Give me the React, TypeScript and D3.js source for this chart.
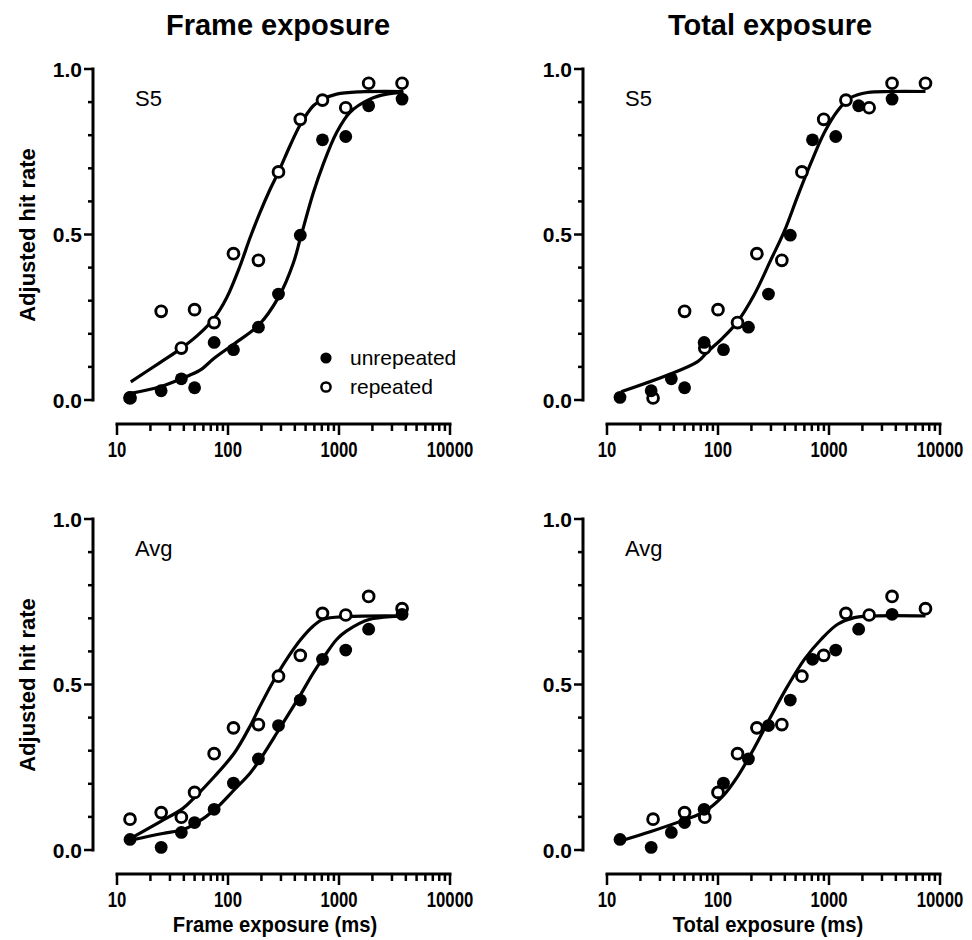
import React from 'react';
import * as d3 from 'd3';

const FONT = '"Liberation Sans", Arial, Helvetica, sans-serif';

// exposure durations (ms)
const frameMs = [13.1, 25, 38, 50, 75, 112, 188, 285, 448, 710, 1150, 1850, 3700];
const totalUnrepeatedMs = [13.1, 25, 38, 50, 75, 112, 188, 285, 448, 710, 1150, 1850, 3700];
const totalRepeatedMs = [26, 50, 76, 100, 150, 224, 376, 570, 896, 1420, 2300, 3700, 7400];

// adjusted hit rates
const s5Unrepeated = [0.008, 0.028, 0.064, 0.037, 0.174, 0.152, 0.22, 0.32, 0.498, 0.786, 0.796, 0.889, 0.909];
const s5Repeated = [0.006, 0.268, 0.157, 0.273, 0.234, 0.442, 0.422, 0.689, 0.848, 0.906, 0.883, 0.957, 0.957];
const avgUnrepeated = [0.032, 0.008, 0.053, 0.083, 0.123, 0.202, 0.275, 0.376, 0.453, 0.576, 0.604, 0.667, 0.712];
const avgRepeated = [0.093, 0.113, 0.099, 0.174, 0.291, 0.369, 0.379, 0.525, 0.588, 0.715, 0.71, 0.766, 0.729];

// fitted curves
const s5FrameRepCurveX = [13.3, 24.4, 39, 56, 75, 97, 128, 158, 194, 239, 288, 362, 450, 587, 720, 952, 1545, 3800];
const s5FrameRepCurveY = [0.055, 0.113, 0.159, 0.202, 0.247, 0.308, 0.404, 0.49, 0.566, 0.636, 0.692, 0.768, 0.833, 0.889, 0.909, 0.924, 0.931, 0.932];
const s5FrameUnrepCurveX = [13.3, 24.4, 39, 56, 75, 114, 190, 288, 388, 450, 587, 720, 952, 1256, 1900, 2690, 3800];
const s5FrameUnrepCurveY = [0.02, 0.04, 0.066, 0.09, 0.126, 0.17, 0.227, 0.313, 0.414, 0.49, 0.626, 0.712, 0.808, 0.869, 0.909, 0.924, 0.929];
const s5TotalCurveX = [13.4, 65.6, 80.7, 110, 148, 212, 300, 396, 522, 689, 908, 1197, 1578, 2228, 3623, 7400];
const s5TotalCurveY = [0.025, 0.116, 0.146, 0.187, 0.234, 0.318, 0.424, 0.51, 0.616, 0.717, 0.808, 0.874, 0.914, 0.929, 0.932, 0.932];
const avgFrameRepCurveX = [13.3, 24.4, 39, 50.4, 75.5, 114, 158, 194, 256, 337, 452, 587, 724, 1173, 3800];
const avgFrameRepCurveY = [0.035, 0.085, 0.125, 0.16, 0.222, 0.293, 0.374, 0.434, 0.51, 0.576, 0.636, 0.677, 0.697, 0.705, 0.707];
const avgFrameUnrepCurveX = [13.3, 25.8, 39, 50.4, 75.5, 114, 158, 194, 288, 388, 452, 587, 724, 952, 1173, 1896, 3800];
const avgFrameUnrepCurveY = [0.03, 0.05, 0.061, 0.079, 0.121, 0.182, 0.232, 0.273, 0.364, 0.434, 0.47, 0.535, 0.581, 0.636, 0.662, 0.697, 0.707];
const avgTotalCurveX = [13.4, 24.9, 49.8, 75.4, 110, 150, 212, 300, 424, 600, 847, 1197, 1690, 2558, 7400];
const avgTotalCurveY = [0.028, 0.056, 0.091, 0.116, 0.162, 0.222, 0.308, 0.404, 0.495, 0.576, 0.636, 0.682, 0.702, 0.707, 0.707];

const xMajorTicks = [10, 100, 1000, 10000];
const yLabelTicks = [0, 0.5, 1.0];
const columnTitles = ['Frame exposure', 'Total exposure'];
const xAxisTitles = ['Frame exposure (ms)', 'Total exposure (ms)'];
const panelLabels = ['S5', 'Avg'];
const legendLabels = ['unrepeated', 'repeated'];

type Curve = { xs: number[]; ys: number[] };
type Panel = {
  col: number; row: number; label: string;
  unrepX: number[]; unrepY: number[]; repX: number[]; repY: number[];
  curves: Curve[]; legend?: boolean;
};

const panels: Panel[] = [
  { col: 0, row: 0, label: panelLabels[0], unrepX: frameMs, unrepY: s5Unrepeated, repX: frameMs, repY: s5Repeated,
    curves: [{ xs: s5FrameRepCurveX, ys: s5FrameRepCurveY }, { xs: s5FrameUnrepCurveX, ys: s5FrameUnrepCurveY }], legend: true },
  { col: 1, row: 0, label: panelLabels[0], unrepX: totalUnrepeatedMs, unrepY: s5Unrepeated, repX: totalRepeatedMs, repY: s5Repeated,
    curves: [{ xs: s5TotalCurveX, ys: s5TotalCurveY }] },
  { col: 0, row: 1, label: panelLabels[1], unrepX: frameMs, unrepY: avgUnrepeated, repX: frameMs, repY: avgRepeated,
    curves: [{ xs: avgFrameRepCurveX, ys: avgFrameRepCurveY }, { xs: avgFrameUnrepCurveX, ys: avgFrameUnrepCurveY }] },
  { col: 1, row: 1, label: panelLabels[1], unrepX: totalUnrepeatedMs, unrepY: avgUnrepeated, repX: totalRepeatedMs, repY: avgRepeated,
    curves: [{ xs: avgTotalCurveX, ys: avgTotalCurveY }] },
];

const COL_DX = 490;
const ROW_DY = 450;

function PanelView({ p }: { p: Panel }) {
  const ox = p.col * COL_DX;
  const oy = p.row * ROW_DY;
  const yAxisX = 93 + ox;
  const xAxisY = 424 + oy;
  const x = d3.scaleLog().domain([10, 10000]).range([117 + ox, 450 + ox]);
  const y = d3.scaleLinear().domain([0, 1]).range([400 + oy, 69 + oy]);
  const line = d3.line<[number, number]>().x(d => x(d[0])).y(d => y(d[1])).curve(d3.curveCatmullRom.alpha(0.5));
  const xTicks = x.ticks();
  const yTicks = y.ticks(10);
  const fmt = d3.format('.1f');
  const isMajorX = (v: number) => xMajorTicks.some(m => Math.abs(m - v) < 1e-6);
  const isMajorY = (v: number) => yLabelTicks.some(m => Math.abs(m - v) < 1e-6);
  return (
    <g>
      {/* y axis */}
      <line x1={yAxisX} x2={yAxisX} y1={y(1)} y2={y(0)} stroke="#000" strokeWidth={3} strokeLinecap="square" />
      {yTicks.map(t => (
        <line key={'yt' + t} x1={yAxisX} x2={yAxisX - (isMajorY(t) ? 9 : 5)} y1={y(t)} y2={y(t)} stroke="#000" strokeWidth={2.5} />
      ))}
      {yLabelTicks.map(t => (
        <text key={'yl' + t} x={yAxisX - 11} y={y(t)} dy="0.36em" textAnchor="end" fontFamily={FONT} fontWeight="bold" fontSize={21} fill="#000">{fmt(t)}</text>
      ))}
      {/* x axis */}
      <line x1={x(10)} x2={x(10000)} y1={xAxisY} y2={xAxisY} stroke="#000" strokeWidth={3} strokeLinecap="square" />
      {xTicks.map(t => (
        <line key={'xt' + t} x1={x(t)} x2={x(t)} y1={xAxisY} y2={xAxisY + (isMajorX(t) ? 11 : 7)} stroke="#000" strokeWidth={2.5} />
      ))}
      {xMajorTicks.map(t => (
        <text key={'xl' + t} transform={`translate(${x(t)},${xAxisY + 33}) scale(0.76,1)`} textAnchor="middle" fontFamily={FONT} fontWeight="bold" fontSize={22} fill="#000">{t}</text>
      ))}
      {/* panel label */}
      <text x={135 + ox} y={106 + oy} fontFamily={FONT} fontSize={22} fill="#000">{p.label}</text>
      {/* curves */}
      {p.curves.map((c, i) => (
        <path key={'c' + i} d={line(c.xs.map((v, j) => [v, c.ys[j]] as [number, number])) || ''} fill="none" stroke="#000" strokeWidth={3.2} />
      ))}
      {/* repeated (open) */}
      {p.repX.map((v, i) => (
        <circle key={'r' + i} cx={x(v)} cy={y(p.repY[i])} r={5.4} fill="#fff" stroke="#000" strokeWidth={2.9} />
      ))}
      {/* unrepeated (filled) */}
      {p.unrepX.map((v, i) => (
        <circle key={'u' + i} cx={x(v)} cy={y(p.unrepY[i])} r={6.4} fill="#000" />
      ))}
      {p.legend && (
        <g>
          <circle cx={326 + ox} cy={358 + oy} r={5.6} fill="#000" />
          <text x={350 + ox} y={365 + oy} fontFamily={FONT} fontSize={21} fill="#000">{legendLabels[0]}</text>
          <circle cx={326 + ox} cy={387 + oy} r={4.6} fill="#fff" stroke="#000" strokeWidth={2.5} />
          <text x={350 + ox} y={394 + oy} fontFamily={FONT} fontSize={21} fill="#000">{legendLabels[1]}</text>
        </g>
      )}
    </g>
  );
}

export default function App() {
  return (
    <svg width={972} height={940} viewBox="0 0 972 940" style={{ position: 'absolute', left: 0, top: 0, background: '#fff' }}>
      <rect x={0} y={0} width={972} height={940} fill="#fff" />
      {columnTitles.map((t, i) => (
        <text key={'ct' + i} x={278 + i * 492} y={35} textAnchor="middle" fontFamily={FONT} fontWeight="bold" fontSize={29} fill="#000">{t}</text>
      ))}
      {[0, 1].map(r => (
        <text key={'yl' + r} transform={`translate(35,${235 + r * ROW_DY}) rotate(-90)`} textAnchor="middle" fontFamily={FONT} fontWeight="bold" fontSize={22} fill="#000">Adjusted hit rate</text>
      ))}
      {xAxisTitles.map((t, i) => (
        <text key={'xt' + i} transform={`translate(${275 + i * 493},932) scale(0.94,1)`} textAnchor="middle" fontFamily={FONT} fontWeight="bold" fontSize={21.5} fill="#000">{t}</text>
      ))}
      {panels.map((p, i) => <PanelView key={i} p={p} />)}
    </svg>
  );
}
